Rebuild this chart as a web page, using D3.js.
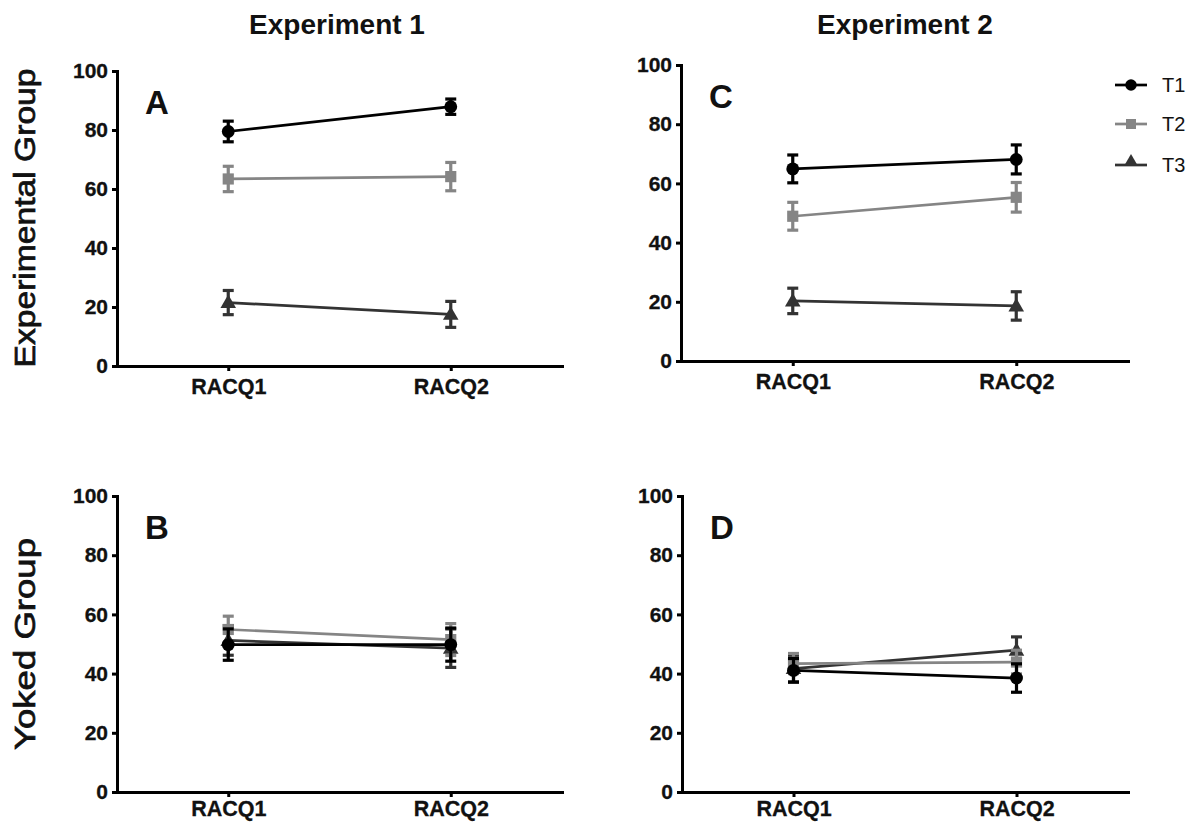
<!DOCTYPE html>
<html>
<head>
<meta charset="utf-8">
<script src="https://cdn.jsdelivr.net/npm/d3@7"></script>
<style>
  html, body { margin: 0; padding: 0; background: #fff; }
  svg { display: block; font-family: "Liberation Sans", Arial, sans-serif; }
</style>
</head>
<body>
<svg id="chart" width="1197" height="823"></svg>
<script>
// RACQ scores (mean ± SEM) for three time points, two experiments, two groups
const categories = ["RACQ1", "RACQ2"];
const seriesNames = ["T1", "T2", "T3"];
const yTicks = [0, 20, 40, 60, 80, 100];
const columnTitles = ["Experiment 1", "Experiment 2"];
const rowTitles = ["Experimental Group", "Yoked Group"];
const panelLetters = ["A", "B", "C", "D"];

// Panel A: Experiment 1, experimental group
const meanA_T1 = [79.5, 87.9];
const meanA_T2 = [63.4, 64.2];
const meanA_T3 = [21.5, 17.5];
const semA_T1 = [3.5, 2.6];
const semA_T2 = [4.3, 4.8];
const semA_T3 = [4.1, 4.4];

// Panel B: Experiment 1, yoked group
const meanB_T1 = [49.8, 49.8];
const meanB_T2 = [54.9, 51.5];
const meanB_T3 = [51.2, 48.6];
const semB_T1 = [5.3, 5.6];
const semB_T2 = [4.5, 5.4];
const semB_T3 = [5.0, 6.5];

// Panel C: Experiment 2, experimental group
const meanC_T1 = [64.9, 68.1];
const meanC_T2 = [48.9, 55.3];
const meanC_T3 = [20.3, 18.6];
const semC_T1 = [4.7, 4.9];
const semC_T2 = [4.7, 5.0];
const semC_T3 = [4.3, 4.8];

// Panel D: Experiment 2, yoked group
const meanD_T1 = [41.1, 38.5];
const meanD_T2 = [43.4, 43.9];
const meanD_T3 = [41.7, 47.9];
const semD_T1 = [4.0, 4.8];
const semD_T2 = [3.4, 4.0];
const semD_T3 = [4.5, 4.5];

const panelData = {
  A: { means: [meanA_T1, meanA_T2, meanA_T3], sems: [semA_T1, semA_T2, semA_T3] },
  B: { means: [meanB_T1, meanB_T2, meanB_T3], sems: [semB_T1, semB_T2, semB_T3] },
  C: { means: [meanC_T1, meanC_T2, meanC_T3], sems: [semC_T1, semC_T2, semC_T3] },
  D: { means: [meanD_T1, meanD_T2, meanD_T3], sems: [semD_T1, semD_T2, semD_T3] }
};

// Panel frames (plot area in page pixels) and category-label padding
const frames = {
  A: { x0: 117, x1: 562, yTop: 71, yBot: 366, pad: 8 },
  B: { x0: 117, x1: 562, yTop: 496, yBot: 792, pad: 4 },
  C: { x0: 681, x1: 1128, yTop: 65, yBot: 361, pad: 8 },
  D: { x0: 682, x1: 1128, yTop: 496, yBot: 792, pad: 4 }
};

const colors = ["#000000", "#858585", "#333333"];
const symbols = [d3.symbolCircle, d3.symbolSquare, d3.symbolTriangle];
const symbolSizes = [130, 125, 105];
const drawOrder = [2, 1, 0];

const svg = d3.select("#chart");

function drawPanel(letter) {
  const f = frames[letter];
  const d = panelData[letter];
  const x = d3.scalePoint().domain(categories).range([f.x0, f.x1]).padding(0.5);
  const y = d3.scaleLinear().domain([0, 100]).range([f.yBot, f.yTop]);
  const g = svg.append("g");

  const yAxis = g.append("g")
    .attr("transform", `translate(${f.x0},0)`)
    .call(d3.axisLeft(y).tickValues(yTicks).tickSize(5).tickSizeOuter(0).tickPadding(4));
  const xAxis = g.append("g")
    .attr("transform", `translate(0,${f.yBot})`)
    .call(d3.axisBottom(x).tickSize(5).tickSizeOuter(0).tickPadding(f.pad));

  [yAxis, xAxis].forEach(ax => {
    ax.select(".domain").attr("stroke", "#000").attr("stroke-width", 3).attr("stroke-linecap", "square");
    ax.selectAll(".tick line").attr("stroke", "#000").attr("stroke-width", 3);
    ax.selectAll(".tick text")
      .attr("fill", "#111")
      .attr("font-weight", "bold")
      .attr("stroke", "#111")
      .attr("stroke-width", 0.3)
      .attr("font-family", "'Liberation Sans', Arial, sans-serif");
  });
  yAxis.selectAll(".tick text").attr("font-size", 21);
  xAxis.selectAll(".tick text").attr("font-size", 21.5);

  g.append("text")
    .attr("x", f.x0 + 28)
    .attr("y", f.yTop + 43)
    .attr("font-size", 33)
    .attr("font-weight", "bold")
    .attr("fill", "#111")
    .text(letter);

  const line = d3.line().x((v, i) => x(categories[i])).y(v => y(v));
  const capHalf = 5.5;

  drawOrder.forEach(s => {
    const means = d.means[s];
    const sems = d.sems[s];
    const col = colors[s];
    const sg = g.append("g");

    sg.append("path")
      .attr("d", line(means))
      .attr("fill", "none")
      .attr("stroke", col)
      .attr("stroke-width", 2.7);

    means.forEach((m, i) => {
      const cx = x(categories[i]);
      const hi = y(m + sems[i]);
      const lo = y(m - sems[i]);
      sg.append("line").attr("x1", cx).attr("x2", cx).attr("y1", hi).attr("y2", lo)
        .attr("stroke", col).attr("stroke-width", 3.2);
      [hi, lo].forEach(yy => {
        sg.append("line").attr("x1", cx - capHalf).attr("x2", cx + capHalf)
          .attr("y1", yy).attr("y2", yy)
          .attr("stroke", col).attr("stroke-width", 3.2);
      });
      sg.append("path")
        .attr("d", d3.symbol().type(symbols[s]).size(symbolSizes[s])())
        .attr("transform", `translate(${cx},${y(m) + (s === 2 ? 1 : 0)})`)
        .attr("fill", col);
    });
  });
}

panelLetters.forEach(drawPanel);

// Column headings
const headX = [337, 905];
columnTitles.forEach((t, i) => {
  svg.append("text")
    .attr("x", headX[i])
    .attr("y", 34)
    .attr("text-anchor", "middle")
    .attr("font-size", 28)
    .attr("font-weight", "bold")
    .attr("fill", "#111")
    .text(t);
});

// Row headings
const rowCenter = [218, 644];
const rowLength = [299, 212];
rowTitles.forEach((t, i) => {
  svg.append("text")
    .attr("transform", `translate(35,${rowCenter[i]}) rotate(-90)`)
    .attr("text-anchor", "middle")
    .attr("font-size", 29)
    .attr("fill", "#111")
    .attr("stroke", "#111")
    .attr("stroke-width", 0.7)
    .attr("textLength", rowLength[i])
    .attr("lengthAdjust", "spacingAndGlyphs")
    .text(t);
});

// Legend
const legendY = [85, 124, 165];
const legend = svg.append("g");
seriesNames.forEach((name, s) => {
  const ly = legendY[s];
  legend.append("line")
    .attr("x1", 1115).attr("x2", 1147).attr("y1", ly).attr("y2", ly)
    .attr("stroke", colors[s]).attr("stroke-width", 2.7);
  legend.append("path")
    .attr("d", d3.symbol().type(symbols[s]).size(symbolSizes[s] * 0.8)())
    .attr("transform", `translate(1131,${ly - (s === 2 ? 3 : 0)})`)
    .attr("fill", colors[s]);
  legend.append("text")
    .attr("x", 1162)
    .attr("y", ly + 7)
    .attr("font-size", 20)
    .attr("fill", "#111")
    .text(name);
});
</script>
</body>
</html>
